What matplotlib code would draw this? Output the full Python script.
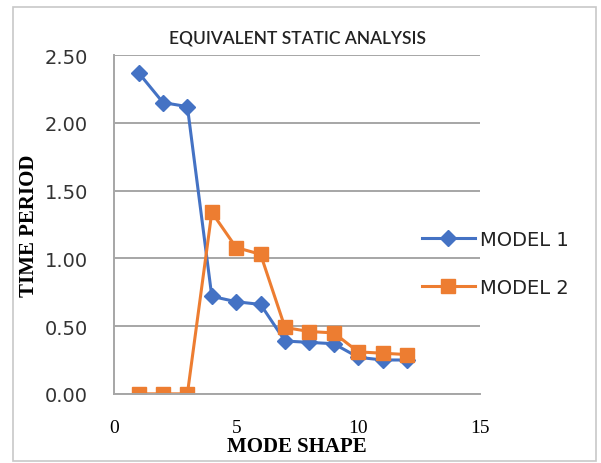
import matplotlib.pyplot as plt
from matplotlib.patches import Rectangle

# Mode numbers and time periods (s) for both models
modes = [1, 2, 3, 4, 5, 6, 7, 8, 9, 10, 11, 12]
model_1 = [2.37, 2.15, 2.12, 0.72, 0.68, 0.66, 0.39, 0.38, 0.37, 0.27, 0.25, 0.25]
model_2 = [0.00, 0.00, 0.00, 1.34, 1.08, 1.03, 0.49, 0.46, 0.45, 0.31, 0.30, 0.29]

y_ticks = [0.0, 0.5, 1.0, 1.5, 2.0, 2.5]
x_ticks = [0, 5, 10, 15]

fig = plt.figure(figsize=(6.01, 4.64), dpi=100)
ax = fig.add_axes([0.19, 0.149, 0.609, 0.73])

# light frame around the whole chart
fig.patches.append(Rectangle((0.022, 0.004), 0.97, 0.978, transform=fig.transFigure,
                             fill=False, edgecolor='#c8c8c8', linewidth=1.2))

ax.plot(modes, model_1, color='#4472c4', marker='D', markersize=8, linewidth=2.2,
        label='MODEL 1')
ax.plot(modes, model_2, color='#ed7d31', marker='s', markersize=10.5, linewidth=2.2,
        label='MODEL 2')

ax.set_xlim(0, 15)
ax.set_ylim(0, 2.5)
ax.set_xticks(x_ticks)
ax.set_yticks(y_ticks)
ax.set_yticklabels([f'{v:.2f}' for v in y_ticks], fontsize=14, color='#333333')
ax.set_xticklabels([str(v) for v in x_ticks], fontsize=14, family='Liberation Serif')
ax.tick_params(axis='y', length=0, pad=19)
ax.tick_params(axis='x', length=0, pad=18)

ax.grid(axis='y', color='#a6a6a6', linewidth=1.4)
ax.set_axisbelow(True)
for side in ['top', 'right']:
    ax.spines[side].set_visible(False)
for side in ['left', 'bottom']:
    ax.spines[side].set_color('#a6a6a6')
    ax.spines[side].set_linewidth(1.4)

ax.set_title('EQUIVALENT STATIC ANALYSIS', fontsize=12.5, family='Lato',
             fontweight='semibold', color='#222222', pad=9)
ax.set_xlabel('MODE SHAPE', fontsize=15, fontweight='bold', family='Liberation Serif')
ax.xaxis.set_label_coords(0.5, -0.125)
ax.set_ylabel('TIME PERIOD', fontsize=15, fontweight='bold', family='Liberation Serif')
ax.yaxis.set_label_coords(-0.205, 0.5)

leg = ax.legend(loc='center left', bbox_to_anchor=(0.82, 0.385), frameon=False,
                fontsize=14, handlelength=2.7, labelspacing=1.5, handletextpad=0.3,
                borderaxespad=0)
for txt in leg.get_texts():
    txt.set_color('#222222')

fig.savefig('out.png', dpi=100)
